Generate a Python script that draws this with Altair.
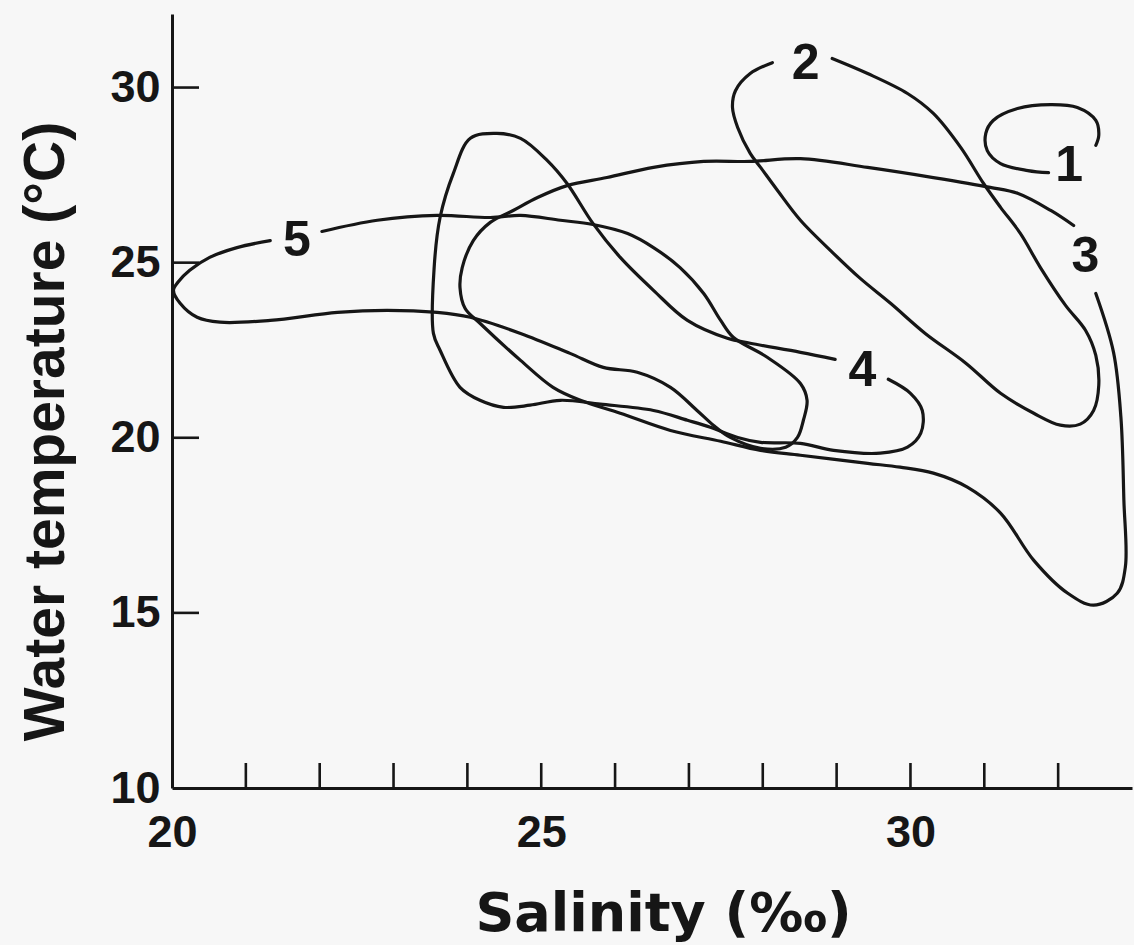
import altair as alt
import pandas as pd

# Salinity (‰) and water temperature (°C) traces, one closed-ish loop per station
sal_1 = [31.87, 31.59, 31.22, 31.04, 31.02, 31.12, 31.45, 31.90, 32.26, 32.51, 32.55, 32.51]
temp_1 = [27.57, 27.63, 27.83, 28.20, 28.69, 29.06, 29.40, 29.51, 29.43, 29.06, 28.63, 28.35]

sal_2 = [28.13, 27.83, 27.63, 27.59, 27.66, 27.83, 27.97, 28.20, 28.51, 28.96, 29.32, 29.73,
         30.20, 30.75, 31.22, 31.67, 32.03, 32.30, 32.48, 32.55, 32.51, 32.37, 32.10, 31.76,
         31.49, 31.22, 30.99, 30.68, 30.31, 29.96, 29.42, 28.94]
temp_2 = [30.71, 30.40, 29.91, 29.43, 28.86, 28.12, 27.72, 27.06, 26.21, 25.26, 24.55, 23.84,
          22.98, 22.13, 21.27, 20.70, 20.36, 20.39, 20.78, 21.50, 22.35, 23.07, 23.78, 24.86,
          25.83, 26.58, 27.26, 28.29, 29.26, 29.83, 30.40, 30.83]

sal_3 = [32.21, 31.90, 31.45, 31.08, 30.31, 29.42, 28.51, 27.83, 27.20, 26.52, 25.89, 25.35,
         24.95, 24.62, 24.31, 24.08, 23.93, 23.90, 23.97, 24.17, 24.72, 25.16, 25.53, 26.07,
         26.75, 27.43, 27.97, 28.51, 29.42, 29.86, 30.31, 30.77, 31.22, 31.67, 32.13, 32.48,
         32.80, 32.91, 32.89, 32.85, 32.75, 32.51]
temp_3 = [26.06, 26.49, 26.98, 27.15, 27.43, 27.72, 27.97, 27.89, 27.89, 27.72, 27.43, 27.20,
          26.86, 26.49, 26.15, 25.63, 24.86, 24.29, 23.69, 23.27, 22.21, 21.44, 21.07, 20.70,
          20.21, 19.90, 19.64, 19.50, 19.27, 19.16, 18.99, 18.59, 17.85, 16.50, 15.56, 15.22,
          15.56, 16.31, 18.22, 20.58, 22.44, 24.12]

sal_4 = [28.98, 28.51, 27.83, 27.52, 26.98, 26.52, 26.07, 25.70, 25.35, 25.08, 24.72, 24.40,
         24.04, 23.81, 23.63, 23.55, 23.54, 23.63, 23.90, 24.17, 24.49, 24.85, 25.26, 25.80,
         26.52, 26.98, 27.29, 27.66, 27.97, 28.51, 28.96, 29.59, 29.96, 30.14, 30.16, 30.00,
         29.70]
temp_4 = [22.24, 22.44, 22.70, 22.84, 23.35, 24.21, 25.15, 26.12, 27.26, 27.92, 28.55, 28.69,
          28.55, 27.55, 26.29, 24.86, 22.98, 22.50, 21.44, 21.07, 20.87, 20.93, 21.07, 20.96,
          20.78, 20.50, 20.30, 20.01, 19.87, 19.84, 19.64, 19.56, 19.73, 20.13, 20.78, 21.27,
          21.67]

sal_5 = [22.03, 22.78, 23.59, 24.31, 24.72, 25.26, 25.70, 26.17, 26.52, 26.88, 27.20, 27.43,
         27.60, 28.06, 28.51, 28.60, 28.55, 28.47, 28.31, 27.97, 27.56, 27.33, 27.11, 26.75,
         26.30, 25.84, 25.39, 24.72, 24.04, 23.59, 22.91, 22.24, 21.33, 20.65, 20.34, 20.11,
         20.02, 20.08, 20.24, 20.51, 20.88, 21.33]
temp_5 = [25.89, 26.21, 26.35, 26.29, 26.35, 26.21, 26.09, 25.83, 25.43, 24.86, 24.12, 23.35,
          22.87, 22.30, 21.55, 21.07, 20.50, 20.01, 19.73, 19.70, 20.01, 20.36, 20.78, 21.44,
          21.87, 22.01, 22.41, 22.98, 23.44, 23.58, 23.64, 23.58, 23.35, 23.30, 23.44, 23.84,
          24.21, 24.44, 24.78, 25.15, 25.43, 25.63]

# Station numbers written beside each loop
label_ids = ["1", "2", "3", "4", "5"]
label_sal = [32.15, 28.58, 32.37, 29.35, 21.69]
label_temp = [27.75, 30.67, 25.15, 21.90, 25.61]

# Axis ticks (drawn inward) and labelled values
x_ticks = list(range(21, 33))
y_ticks = [15, 20, 25, 30]
x_label_values = [20, 25, 30]
y_label_values = [10, 15, 20, 25, 30]

INK = "#161616"
W, H = 960, 774

rows = []
for sid, (xs, ys) in {"1": (sal_1, temp_1), "2": (sal_2, temp_2), "3": (sal_3, temp_3),
                      "4": (sal_4, temp_4), "5": (sal_5, temp_5)}.items():
    for i, (s, t) in enumerate(zip(xs, ys)):
        rows.append({"station": sid, "idx": i, "sal": s, "temp": t})
traces = pd.DataFrame(rows)
labels = pd.DataFrame({"id": label_ids, "sal": label_sal, "temp": label_temp})

x_scale = alt.Scale(domain=[20, 33], nice=False, zero=False)
y_scale = alt.Scale(domain=[10, 32.1], nice=False, zero=False)

x_enc = alt.X(
    "sal:Q", scale=x_scale,
    axis=alt.Axis(
        values=x_label_values, ticks=False, grid=False, labelFlush=False,
        domainColor=INK, domainWidth=3,
        labelFont="Liberation Sans", labelFontSize=45, labelFontWeight="bold",
        labelColor=INK, labelPadding=22,
        title="Salinity (‰)", titleFont="DejaVu Sans", titleFontSize=54,
        titleFontWeight="bold", titleColor=INK, titleBaseline="alphabetic",
        titleAlign="center", titleX=491, titleY=142,
    ),
)
y_enc = alt.Y(
    "temp:Q", scale=y_scale,
    axis=alt.Axis(
        values=y_label_values, ticks=False, grid=False, labelFlush=False,
        domainColor=INK, domainWidth=3,
        labelFont="Liberation Sans", labelFontSize=45, labelFontWeight="bold",
        labelColor=INK, labelPadding=12,
        title="Water temperature (°C)", titleFont="Liberation Sans", titleFontSize=57,
        titleFontWeight="bold", titleColor=INK, titleAngle=270,
        titleBaseline="alphabetic", titleAlign="center", titleX=-109, titleY=417,
    ),
)

lines = alt.Chart(traces).mark_line(
    interpolate="catmull-rom", strokeWidth=3.2, color=INK, strokeCap="round"
).encode(x=x_enc, y=y_enc, detail="station:N", order="idx:Q")

xt = alt.Chart(pd.DataFrame({"sal": x_ticks})).mark_rule(
    strokeWidth=2.6, color=INK
).encode(x=x_enc, y=alt.value(H), y2=alt.value(H - 25))

yt = alt.Chart(pd.DataFrame({"temp": y_ticks})).mark_rule(
    strokeWidth=2.6, color=INK
).encode(y=y_enc, x=alt.value(0), x2=alt.value(27))

names = alt.Chart(labels).mark_text(
    font="Liberation Sans", fontSize=50, fontWeight="bold", color=INK,
    align="center", baseline="middle"
).encode(x=x_enc, y=y_enc, text="id:N")

chart = alt.layer(lines, xt, yt, names).properties(
    width=W, height=H,
    padding={"left": 172, "top": 14, "right": 2, "bottom": 157},
    autosize=alt.AutoSizeParams(type="none"),
    background="#f7f7f7",
).configure_view(stroke=None)

chart.save("out.html", embed_options={"renderer": "svg", "actions": False})
